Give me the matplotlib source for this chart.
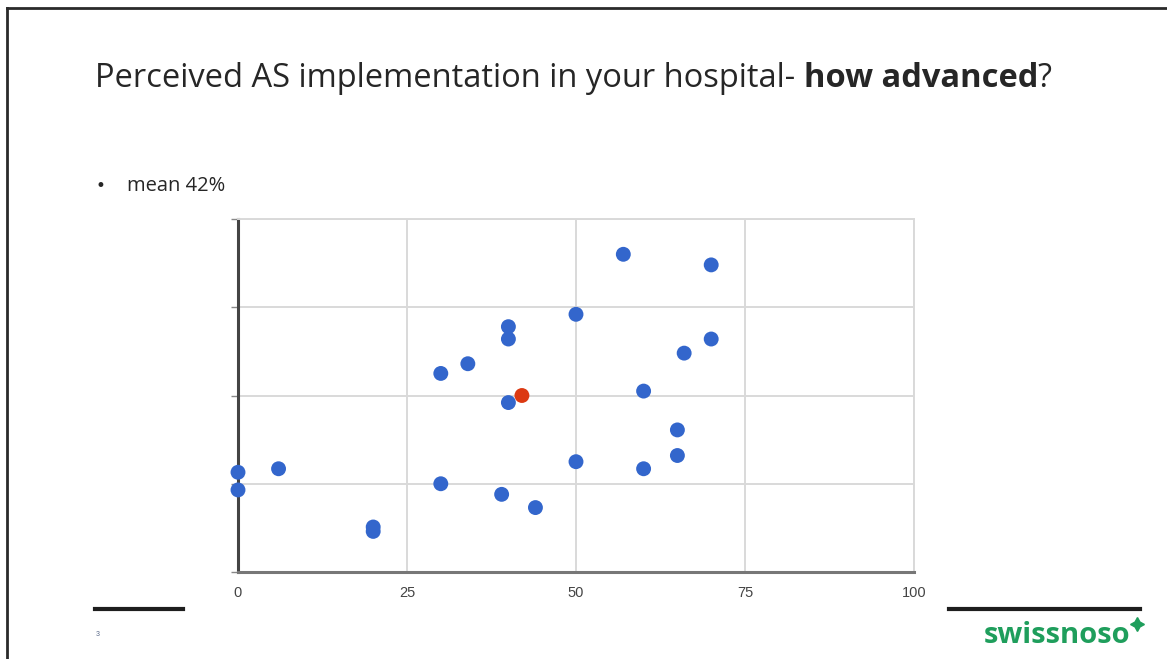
import matplotlib
matplotlib.use("Agg")
import matplotlib.pyplot as plt
from matplotlib.lines import Line2D

# Perceived implementation (%) per hospital, with vertical spread for readability
impl_pct = [0, 0, 6, 20, 20, 30, 30, 34, 40, 40, 40, 39, 44,
            50, 50, 57, 70, 70, 66, 60, 60, 65, 65]
spread = [1.13, 0.93, 1.17, 0.51, 0.46, 2.25, 1.00, 2.36, 2.78, 2.64, 1.92,
          0.88, 0.73, 2.92, 1.25, 3.60, 3.48, 2.64, 2.48, 2.05, 1.17, 1.61, 1.32]

mean_pct = 42
mean_spread = 2.0

x_ticks = [0, 25, 50, 75, 100]
y_ticks = [0, 1, 2, 3, 4]

title_regular = "Perceived AS implementation in your hospital- "
title_bold = "how advanced"
title_end = "?"
bullet_text = "mean 42%"
page_number = "3"
logo_text = "swissnoso"

W, H = 1167, 659
fig = plt.figure(figsize=(W / 100, H / 100), dpi=100)
fig.patch.set_facecolor("white")

def fx(px):
    return px / W

def fy(py):
    return 1 - py / H

TEXT = "#262626"
TFONT = "Open Sans"

# slide frame (top and left edges)
fig.add_artist(Line2D([fx(7), fx(7)], [fy(8), 0], transform=fig.transFigure,
                      color="#2a2a2a", lw=2))
fig.add_artist(Line2D([fx(7), 1], [fy(8), fy(8)], transform=fig.transFigure,
                      color="#2a2a2a", lw=2))

# scatter chart
ax = fig.add_axes([fx(238), fy(572), fx(914) - fx(238), fy(219) - fy(572)])
ax.set_xlim(0, 100)
ax.set_ylim(0, 4)
ax.set_xticks(x_ticks)
ax.set_yticks(y_ticks)
ax.set_yticklabels([])
ax.grid(True, color="#d9d9d9", lw=1.4)
ax.set_axisbelow(True)
ax.tick_params(axis="x", length=0, pad=10, labelsize=10.5, labelcolor="#444444")
ax.tick_params(axis="y", length=5, width=1, color="#888888", direction="out")
for lbl in ax.get_xticklabels():
    lbl.set_family("Liberation Sans")
ax.spines["left"].set_color("#444444")
ax.spines["left"].set_linewidth(2.2)
ax.spines["bottom"].set_color("#777777")
ax.spines["bottom"].set_linewidth(2.2)
for s in ("top", "right"):
    ax.spines[s].set_color("#d9d9d9")
    ax.spines[s].set_linewidth(1.4)

ax.scatter(impl_pct, spread, s=115, color="#3366cc", edgecolors="none",
           zorder=5, clip_on=False)
ax.scatter([mean_pct], [mean_spread], s=115, color="#dc3912", edgecolors="none",
           zorder=6, clip_on=False)

# title, with the bold part following the regular text
TSIZE = 23.5
t1 = fig.text(fx(95), fy(87), title_regular, fontsize=TSIZE, family=TFONT,
              color=TEXT, va="baseline", ha="left")
t2 = ax.annotate(title_bold, xy=(1, 0), xycoords=t1, va="bottom", ha="left",
                 fontsize=TSIZE, family=TFONT, fontweight="bold", color=TEXT,
                 annotation_clip=False)
t3 = ax.annotate(title_end, xy=(1, 0), xycoords=t2, va="bottom", ha="left",
                 fontsize=TSIZE, family=TFONT, color=TEXT, annotation_clip=False)

# bullet line
fig.text(fx(96), fy(186), "\u2022", fontsize=12, family="DejaVu Sans",
         color=TEXT, va="center", ha="left")
fig.text(fx(127), fy(186), bullet_text, fontsize=14.5, family=TFONT,
         color=TEXT, va="center", ha="left")

# footer rules, page number and logo
fig.add_artist(Line2D([fx(95), fx(183)], [fy(609), fy(609)],
                      transform=fig.transFigure, color="#1e1e1e", lw=3))
fig.add_artist(Line2D([fx(949), fx(1140)], [fy(609), fy(609)],
                      transform=fig.transFigure, color="#1e1e1e", lw=3))
fig.text(fx(96), fy(634), page_number, fontsize=5, family="Liberation Sans",
         color="#5a6a8a", va="center", ha="left")
fig.text(fx(984), fy(643), logo_text, fontsize=21, family=TFONT,
         fontweight="bold", color="#1f9e5c", va="baseline", ha="left")
fig.add_artist(Line2D([fx(1137)], [fy(624)], transform=fig.transFigure,
                      marker=(4, 1, 0), markersize=10, color="#1f9e5c", lw=0))

fig.savefig("out.png", dpi=100)
